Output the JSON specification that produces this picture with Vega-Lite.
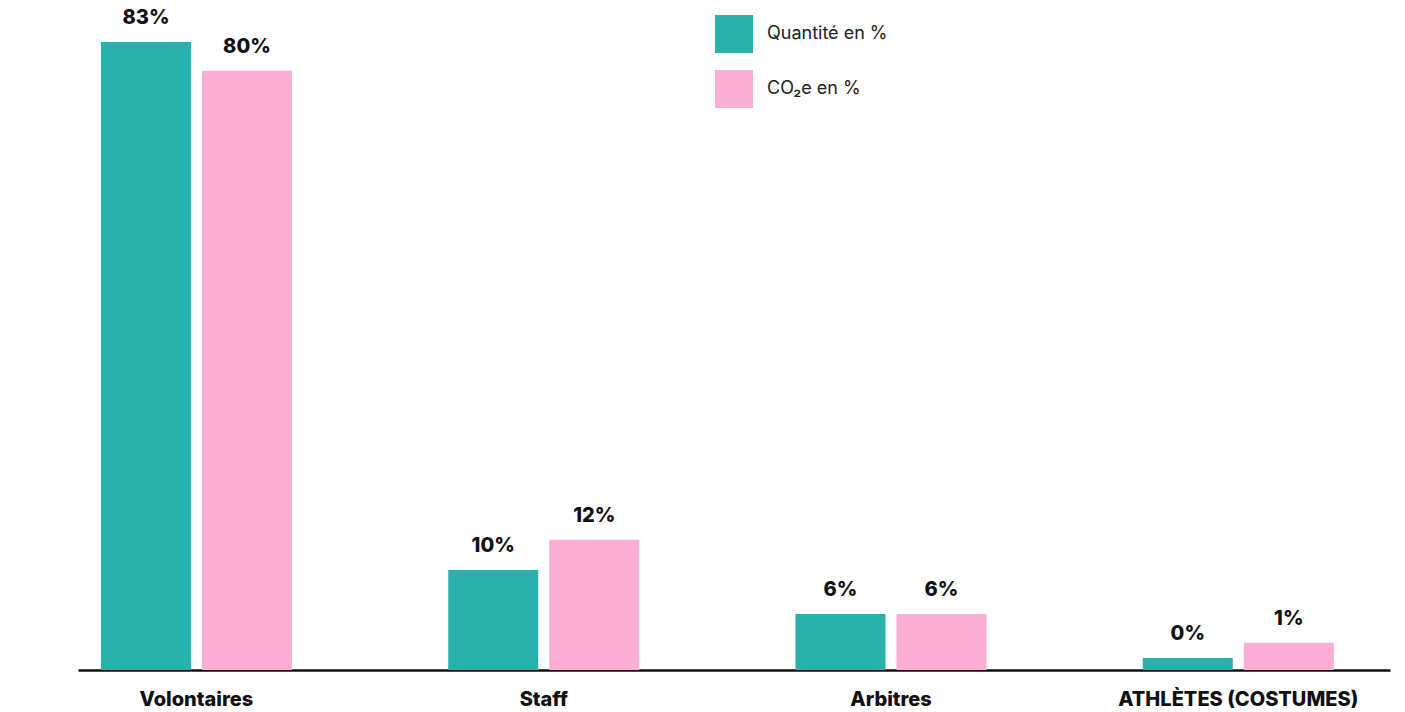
{
  "$schema": "https://vega.github.io/schema/vega-lite/v6.json",
  "width": 1312,
  "height": 670,
  "autosize": {"type": "none"},
  "padding": {"left": 78, "top": 0, "right": 15, "bottom": 42},
  "background": "white",
  "config": {"view": {"stroke": null}, "font": "Inter"},
  "data": {
    "values": [
      {"categorie": "Volontaires", "serie": "Quantité en %", "libelle": "83%", "hauteur": 83.0},
      {"categorie": "Volontaires", "serie": "CO₂e en %", "libelle": "80%", "hauteur": 79.2},
      {"categorie": "Staff", "serie": "Quantité en %", "libelle": "10%", "hauteur": 13.2},
      {"categorie": "Staff", "serie": "CO₂e en %", "libelle": "12%", "hauteur": 17.2},
      {"categorie": "Arbitres", "serie": "Quantité en %", "libelle": "6%", "hauteur": 7.4},
      {"categorie": "Arbitres", "serie": "CO₂e en %", "libelle": "6%", "hauteur": 7.4},
      {"categorie": "ATHLÈTES (COSTUMES)", "serie": "Quantité en %", "libelle": "0%", "hauteur": 1.6},
      {"categorie": "ATHLÈTES (COSTUMES)", "serie": "CO₂e en %", "libelle": "1%", "hauteur": 3.6}
    ]
  },
  "encoding": {
    "x": {
      "field": "categorie",
      "type": "nominal",
      "sort": null,
      "scale": {"paddingInner": 0.45, "paddingOuter": 0.114, "align": 0.29},
      "axis": {
        "title": null,
        "labelAngle": 0,
        "labelFont": "Inter",
        "labelFontWeight": 800,
        "labelFontSize": 20,
        "labelColor": "#111111",
        "labelPadding": 19,
        "labelLimit": 500,
        "labelOverlap": false,
        "ticks": false,
        "domainColor": "#111111",
        "domainWidth": 2.5,
        "grid": false
      }
    },
    "xOffset": {
      "field": "serie",
      "type": "nominal",
      "sort": ["Quantité en %", "CO₂e en %"],
      "scale": {"paddingInner": 0.109, "paddingOuter": 0}
    },
    "y": {
      "field": "hauteur",
      "type": "quantitative",
      "scale": {"domain": [0, 88.55], "nice": false},
      "axis": null
    }
  },
  "layer": [
    {
      "mark": {"type": "bar", "cornerRadius": 0},
      "encoding": {
        "color": {
          "field": "serie",
          "type": "nominal",
          "sort": ["Quantité en %", "CO₂e en %"],
          "scale": {"domain": ["Quantité en %", "CO₂e en %"], "range": ["#2bb1ac", "#fdaed3"]},
          "legend": {
            "title": null,
            "orient": "none",
            "legendX": 637,
            "legendY": 15,
            "padding": 0,
            "symbolType": "square",
            "symbolSize": 1444,
            "symbolStrokeWidth": 0,
            "symbolOpacity": 1,
            "rowPadding": 17,
            "labelOffset": 14,
            "labelFont": "Inter",
            "labelFontSize": 18,
            "labelColor": "#222222",
            "labelLimit": 300
          }
        }
      }
    },
    {
      "mark": {
        "type": "text",
        "font": "Inter",
        "fontWeight": 800,
        "fontSize": 20,
        "color": "#111111",
        "baseline": "alphabetic",
        "dy": -18
      },
      "encoding": {"text": {"field": "libelle"}}
    }
  ]
}
